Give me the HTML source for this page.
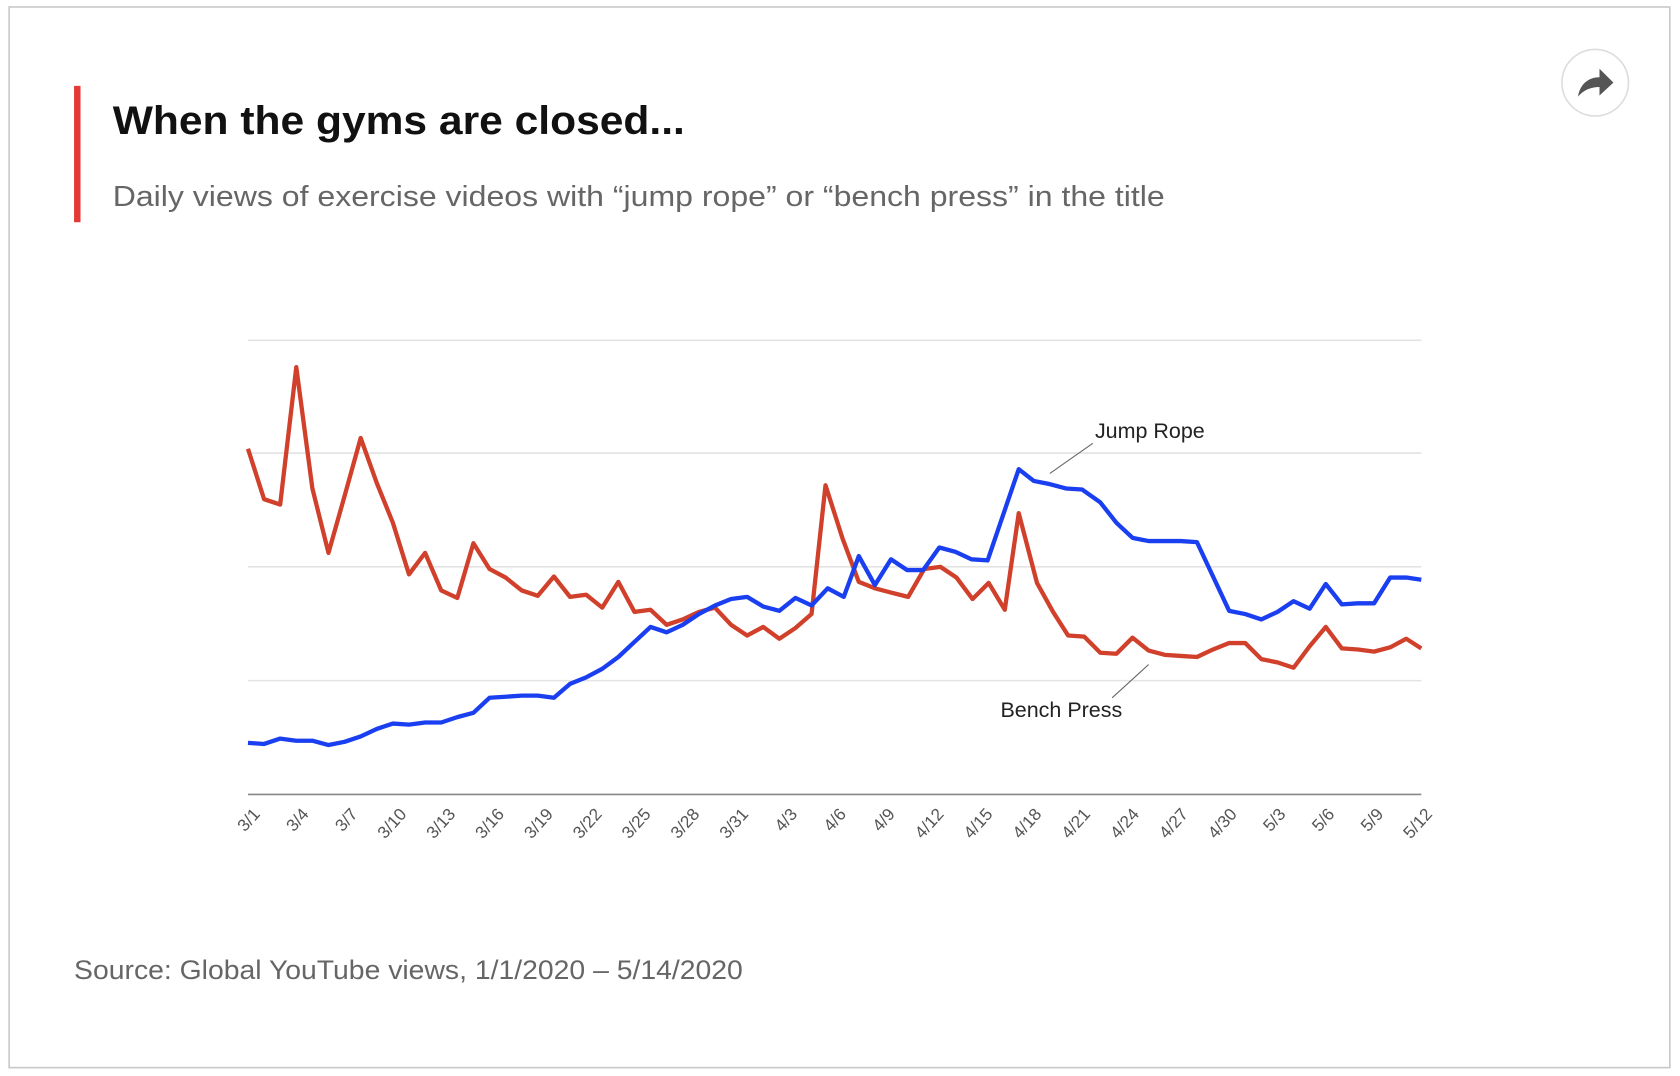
<!DOCTYPE html>
<html><head><meta charset="utf-8"><style>html,body{margin:0;padding:0;background:#fff}svg{display:block}</style></head>
<body>
<svg width="1680" height="1076" viewBox="0 0 1565 1002.3" preserveAspectRatio="none" xmlns="http://www.w3.org/2000/svg" font-family="Liberation Sans, sans-serif">
<rect x="8.5" y="6.5" width="1547" height="988" fill="#fff" stroke="#c8c8c8" stroke-width="1.5"/>
<rect x="69" y="80" width="6" height="127" fill="#e53935"/>
<text x="105" y="125" font-size="37" font-weight="bold" fill="#111" textLength="533" lengthAdjust="spacingAndGlyphs">When the gyms are closed...</text>
<text x="105" y="192" font-size="27" fill="#666" textLength="980" lengthAdjust="spacingAndGlyphs">Daily views of exercise videos with “jump rope” or “bench press” in the title</text>
<circle cx="1486" cy="77" r="31" fill="#fff" stroke="#ddd" stroke-width="1.5"/>
<path d="M1470 90 C1472 78 1480 72 1490 72 L1490 64 L1503 77 L1490 89 L1490 81 C1482 81 1475 84 1470 90 Z" fill="#555"/>
<g stroke="#e3e3e3" stroke-width="1.5">
<line x1="231" y1="317" x2="1324" y2="317"/><line x1="231" y1="422" x2="1324" y2="422"/><line x1="231" y1="528" x2="1324" y2="528"/><line x1="231" y1="634" x2="1324" y2="634"/>
</g>
<line x1="231" y1="740" x2="1324" y2="740" stroke="#888" stroke-width="1.5"/>
<polyline fill="none" stroke="#d0402b" stroke-width="4" stroke-linejoin="round" points="231,418 246,465 261,470 276,342 291,455 306,515 321,462 336,408 351,450 366,487 381,535 396,515 411,550 426,557 441,506 456,530 471,538 486,550 501,555 516,537 531,556 546,554 561,566 576,542 591,570 606,568 621,582 636,577 651,570 666,566 681,582 696,592 711,584 726,595 741,585 756,572 769,452 785,502 800,542 815,548 830,552 846,556 861,530 876,528 891,538 906,558 921,543 936,568 949,478 966,543 981,570 995,592 1010,593 1025,608 1040,609 1055,594 1070,606 1085,610 1100,611 1115,612 1130,605 1145,599 1160,599 1175,614 1190,617 1205,622 1220,602 1235,584 1250,604 1265,605 1280,607 1295,603 1310,595 1324,604"/>
<polyline fill="none" stroke="#1a3ff0" stroke-width="4" stroke-linejoin="round" points="231,692 246,693 261,688 276,690 291,690 306,694 321,691 336,686 351,679 366,674 381,675 396,673 411,673 426,668 441,664 456,650 471,649 486,648 501,648 516,650 531,637 546,631 561,623 576,612 591,598 606,584 621,589 636,582 651,572 666,564 681,558 696,556 711,565 726,569 741,557 756,564 771,548 786,556 800,518 815,545 830,521 845,531 860,531 875,510 890,514 905,521 920,522 949,437 963,448 978,451 993,455 1008,456 1025,468 1040,487 1055,501 1070,504 1085,504 1100,504 1115,505 1130,537 1145,569 1160,572 1175,577 1190,570 1205,560 1220,567 1235,544 1250,563 1265,562 1280,562 1295,538 1310,538 1324,540"/>
<line x1="978" y1="441" x2="1018" y2="413" stroke="#666" stroke-width="1"/>
<text x="1020" y="408" font-size="20" fill="#222">Jump Rope</text>
<line x1="1036" y1="650" x2="1070" y2="619" stroke="#666" stroke-width="1"/>
<text x="932" y="668" font-size="20" fill="#222">Bench Press</text>
<g font-size="16" fill="#555" text-anchor="end">
<text transform="translate(243,759) rotate(-48)">3/1</text>
<text transform="translate(288.5,759) rotate(-48)">3/4</text>
<text transform="translate(334,759) rotate(-48)">3/7</text>
<text transform="translate(379.5,759) rotate(-48)">3/10</text>
<text transform="translate(425,759) rotate(-48)">3/13</text>
<text transform="translate(470.5,759) rotate(-48)">3/16</text>
<text transform="translate(516,759) rotate(-48)">3/19</text>
<text transform="translate(561.5,759) rotate(-48)">3/22</text>
<text transform="translate(607,759) rotate(-48)">3/25</text>
<text transform="translate(652.5,759) rotate(-48)">3/28</text>
<text transform="translate(698,759) rotate(-48)">3/31</text>
<text transform="translate(743.5,759) rotate(-48)">4/3</text>
<text transform="translate(789,759) rotate(-48)">4/6</text>
<text transform="translate(834.5,759) rotate(-48)">4/9</text>
<text transform="translate(880,759) rotate(-48)">4/12</text>
<text transform="translate(925.5,759) rotate(-48)">4/15</text>
<text transform="translate(971,759) rotate(-48)">4/18</text>
<text transform="translate(1016.5,759) rotate(-48)">4/21</text>
<text transform="translate(1062,759) rotate(-48)">4/24</text>
<text transform="translate(1107.5,759) rotate(-48)">4/27</text>
<text transform="translate(1153,759) rotate(-48)">4/30</text>
<text transform="translate(1198.5,759) rotate(-48)">5/3</text>
<text transform="translate(1244,759) rotate(-48)">5/6</text>
<text transform="translate(1289.5,759) rotate(-48)">5/9</text>
<text transform="translate(1335,759) rotate(-48)">5/12</text>
</g>
<text x="69" y="912" font-size="25" fill="#666" textLength="623" lengthAdjust="spacingAndGlyphs">Source: Global YouTube views, 1/1/2020 – 5/14/2020</text>
</svg>
</body></html>
